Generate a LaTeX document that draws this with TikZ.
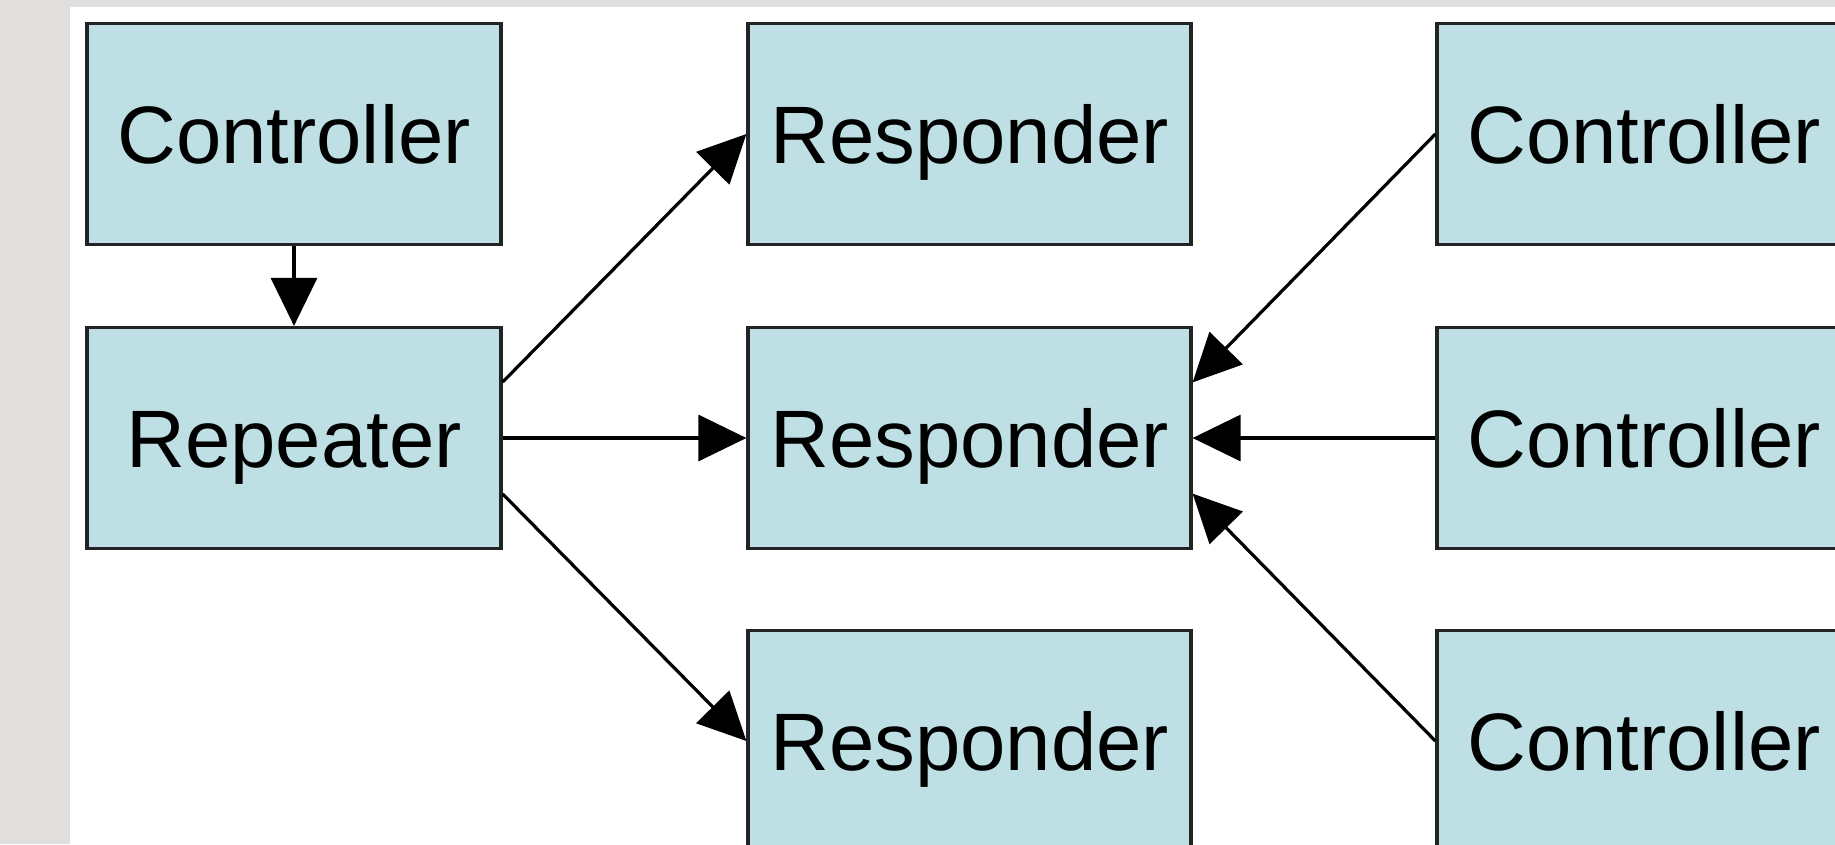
\documentclass[tikz,border=0pt]{standalone}
\usepackage{fontspec}
\setmainfont{Liberation Sans}
\usetikzlibrary{arrows.meta}
\definecolor{boxfill}{RGB}{190,224,228}
\definecolor{sidegray}{RGB}{224,223,221}
\definecolor{edge}{RGB}{35,35,35}
\begin{document}
\begin{tikzpicture}[x=1pt,y=-1pt,
  unit/.style={draw=edge,line width=3.2pt,fill=boxfill,minimum width=414pt,
    minimum height=221pt,inner sep=0pt,text height=58pt,text depth=0pt,
    font=\fontsize{81.5}{98}\selectfont},
  wide/.style={unit,minimum width=443pt},
  link/.style={line width=3.2pt,-{Triangle[length=48pt,width=46pt]}}]
\fill[sidegray] (0,0) rectangle (1835,844);
\fill[white] (70,7) rectangle (1835,844);
\useasboundingbox (0,0) rectangle (1835,844);
\coordinate (L1) at (294,134);
\coordinate (L2) at (294,438);
\coordinate (M1) at (969.5,134);
\coordinate (M2) at (969.5,438);
\coordinate (M3) at (969.5,741);
\coordinate (R1) at (1644,134);
\coordinate (R2) at (1644,438);
\coordinate (R3) at (1644,741);
\node[unit] (ctrl) at (L1) {Controller};
\node[unit] (rep) at (L2) {Repeater};
\node[wide] (resA) at (M1) {Responder};
\node[wide] (resB) at (M2) {Responder};
\node[wide] (resC) at (M3) {Responder};
\node[unit] (ctrlA) at (R1) {Controller};
\node[unit] (ctrlB) at (R2) {Controller};
\node[unit] (ctrlC) at (R3) {Controller};

\draw[link] (ctrl) -- (rep);
\draw[link] (rep.15) -- (resA.west);
\draw[link] (rep.east) -- (resB.west);
\draw[link] (rep.-15) -- (resC.west);
\draw[link] (ctrlA.west) -- (resB.14);
\draw[link] (ctrlB.west) -- (resB.east);
\draw[link] (ctrlC.west) -- (resB.-14);
\end{tikzpicture}
\end{document}
